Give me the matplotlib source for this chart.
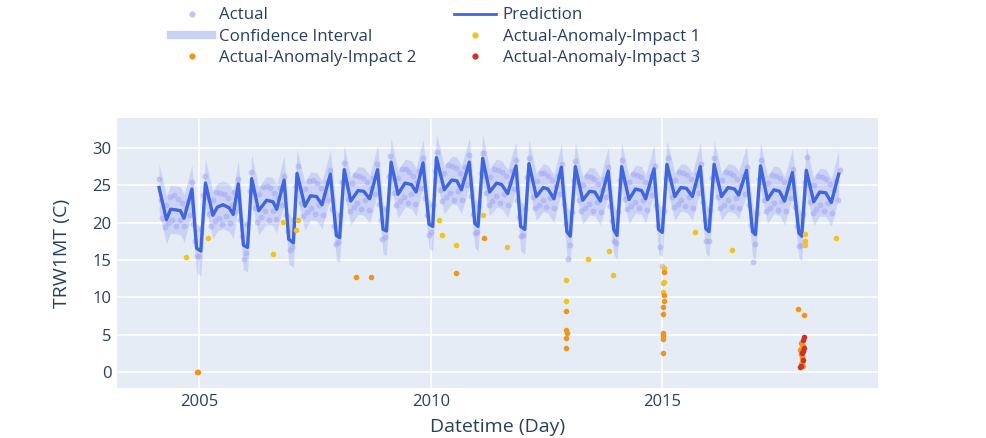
import numpy as np
import pandas as pd
import matplotlib
matplotlib.use('Agg')
import matplotlib.pyplot as plt
from matplotlib.lines import Line2D

plt.rcParams['font.family'] = ['Open Sans', 'DejaVu Sans']

# ---- data ----
# prediction line, decimal years
pred_t = [
    2004.13, 2004.29, 2004.38, 2004.51, 2004.59, 2004.67, 2004.84, 2004.94, 2005.03,
    2005.13, 2005.29, 2005.39, 2005.51, 2005.64, 2005.73, 2005.84, 2005.95, 2006.04,
    2006.13, 2006.28, 2006.45, 2006.59, 2006.67, 2006.83, 2006.93, 2007.03,
    2007.11, 2007.28, 2007.40, 2007.53, 2007.65, 2007.83, 2007.96, 2008.03,
    2008.13, 2008.27, 2008.43, 2008.55, 2008.68, 2008.85, 2008.97, 2009.04,
    2009.14, 2009.29, 2009.44, 2009.58, 2009.68, 2009.83, 2009.96, 2010.04,
    2010.12, 2010.29, 2010.45, 2010.56, 2010.66, 2010.83, 2010.95, 2011.02,
    2011.12, 2011.27, 2011.42, 2011.53, 2011.66, 2011.84, 2011.94, 2012.03,
    2012.12, 2012.28, 2012.43, 2012.53, 2012.66, 2012.82, 2012.94, 2013.01,
    2013.12, 2013.28, 2013.43, 2013.54, 2013.66, 2013.83, 2013.95, 2014.02,
    2014.12, 2014.28, 2014.42, 2014.55, 2014.64, 2014.82, 2014.92, 2015.00,
    2015.10, 2015.27, 2015.40, 2015.52, 2015.65, 2015.82, 2015.94, 2016.01,
    2016.12, 2016.28, 2016.42, 2016.56, 2016.65, 2016.82, 2016.95, 2017.01,
    2017.12, 2017.27, 2017.41, 2017.53, 2017.64, 2017.81, 2017.95, 2018.01,
    2018.11, 2018.27, 2018.40, 2018.53, 2018.65, 2018.81,
]
pred_y = [
    24.7, 20.4, 21.8, 21.7, 21.6, 20.6, 24.5, 16.6, 16.2,
    25.3, 21.0, 22.1, 22.4, 22.0, 21.1, 25.2, 17.0, 16.7,
    25.9, 21.6, 23.0, 22.8, 21.8, 25.7, 17.8, 17.3,
    26.6, 22.2, 23.6, 23.5, 22.4, 26.5, 18.3, 18.0,
    27.1, 22.9, 24.3, 24.2, 23.2, 27.1, 19.1, 18.9,
    28.1, 23.8, 25.3, 25.1, 24.1, 28.0, 19.8, 19.5,
    28.7, 24.4, 25.7, 25.6, 24.4, 28.1, 19.9, 19.5,
    28.6, 24.1, 25.3, 25.1, 23.9, 27.6, 19.5, 19.1,
    27.9, 23.5, 24.7, 24.5, 23.2, 27.4, 18.8, 18.2,
    27.5, 23.0, 24.2, 24.1, 22.9, 26.9, 19.1, 18.3,
    27.5, 23.1, 24.5, 24.3, 23.2, 27.2, 19.1, 18.7,
    27.8, 23.5, 24.7, 24.6, 23.5, 27.5, 19.2, 18.8,
    27.8, 23.5, 24.7, 24.5, 23.7, 27.0, 18.8, 18.4,
    27.6, 23.1, 24.4, 24.2, 22.9, 26.7, 18.6, 18.2,
    27.0, 22.8, 24.1, 24.0, 22.7, 26.5,
]
ci_upper = [
    27.9, 23.6, 25.0, 24.9, 24.8, 23.8, 27.7, 19.9, 19.5,
    28.5, 24.2, 25.3, 25.6, 25.2, 24.3, 28.4, 20.3, 20.0,
    29.1, 24.8, 26.2, 26.0, 25.0, 28.9, 21.1, 20.6,
    29.8, 25.4, 26.8, 26.7, 25.6, 29.7, 21.6, 21.3,
    30.3, 26.1, 27.5, 27.4, 26.4, 30.3, 22.4, 22.2,
    31.3, 27.0, 28.5, 28.3, 27.3, 31.2, 23.1, 22.8,
    31.9, 27.6, 28.9, 28.8, 27.6, 31.3, 23.2, 22.8,
    31.8, 27.3, 28.5, 28.3, 27.1, 30.8, 22.8, 22.4,
    31.1, 26.7, 27.9, 27.7, 26.4, 30.6, 22.1, 21.5,
    30.7, 26.2, 27.4, 27.3, 26.1, 30.1, 22.4, 21.6,
    30.7, 26.3, 27.7, 27.5, 26.4, 30.4, 22.4, 22.0,
    31.0, 26.7, 27.9, 27.8, 26.7, 30.7, 22.5, 22.1,
    31.0, 26.7, 27.9, 27.7, 26.9, 30.2, 22.1, 21.7,
    30.8, 26.3, 27.6, 27.4, 26.1, 29.9, 21.9, 21.5,
    30.2, 26.0, 27.3, 27.2, 25.9, 29.7,
]
ci_lower = [
    21.4, 17.2, 18.6, 18.5, 18.4, 17.4, 21.2, 13.3, 12.9,
    22.1, 17.8, 18.9, 19.2, 18.8, 17.9, 22.0, 13.7, 13.4,
    22.7, 18.4, 19.8, 19.6, 18.6, 22.5, 14.5, 14.0,
    23.4, 19.0, 20.4, 20.3, 19.2, 23.3, 15.0, 14.7,
    23.9, 19.7, 21.1, 21.0, 20.0, 23.9, 15.8, 15.6,
    24.9, 20.6, 22.1, 21.9, 20.9, 24.8, 16.5, 16.2,
    25.5, 21.2, 22.5, 22.4, 21.2, 24.9, 16.6, 16.2,
    25.4, 20.9, 22.1, 21.9, 20.7, 24.4, 16.2, 15.8,
    24.7, 20.3, 21.5, 21.3, 20.0, 24.2, 15.5, 14.9,
    24.3, 19.8, 21.0, 20.9, 19.7, 23.7, 15.8, 15.0,
    24.3, 19.9, 21.3, 21.1, 20.0, 24.0, 15.8, 15.4,
    24.6, 20.3, 21.5, 21.4, 20.3, 24.3, 15.9, 15.5,
    24.6, 20.3, 21.5, 21.3, 20.5, 23.8, 15.5, 15.1,
    24.4, 19.9, 21.2, 21.0, 19.7, 23.5, 15.3, 14.9,
    23.8, 19.6, 20.9, 20.8, 19.5, 23.3,
]

# actual readings, twice a month (1st and 15th) from 2004-02-15 to 2018-11-01
actual_start, actual_end = '2004-02-15', '2018-11-01'
actual_y = [
    # 2004
    25.8, 23.1, 20.6, 19.4, 22.3, 19.9, 23.4, 20.3, 23.7, 19.6, 23.2, 20.4,
    22.6, 19.5, 21.9, 22.8, 21.0, 25.4, 19.8, 17.6, 15.5,
    # 2005
    15.6, 19.1, 23.7, 26.2, 23.4, 21.2, 19.5, 23.0, 20.2, 24.1, 20.6, 24.0,
    19.8, 23.8, 20.9, 23.3, 19.9, 22.4, 24.1, 21.5, 25.9, 20.3, 18.2, 15.1,
    # 2006
    15.9, 19.8, 24.3, 26.8, 24.0, 21.9, 20.1, 23.9, 20.8, 24.8, 21.5, 24.9,
    20.4, 24.6, 21.6, 24.0, 20.5, 23.3, 24.7, 22.4, 26.3, 21.0, 18.9, 16.4,
    # 2007
    16.8, 20.4, 24.9, 27.6, 24.6, 22.6, 20.9, 24.5, 21.4, 25.6, 22.0, 25.7,
    21.1, 25.3, 22.3, 24.6, 21.0, 23.9, 25.4, 23.1, 27.1, 21.8, 19.6, 17.1,
    # 2008
    17.4, 21.0, 25.5, 28.0, 25.3, 23.2, 21.6, 25.3, 22.1, 26.4, 22.7, 26.3,
    21.8, 26.0, 23.0, 25.4, 21.7, 24.6, 26.0, 23.8, 27.9, 22.5, 20.3, 17.8,
    # 2009
    18.1, 21.8, 26.3, 28.9, 26.1, 24.0, 22.4, 26.0, 22.9, 27.2, 23.5, 27.2,
    22.7, 26.8, 23.8, 26.2, 22.5, 25.4, 26.9, 24.6, 28.6, 23.3, 21.0, 18.4,
    # 2010
    18.8, 22.4, 26.9, 29.5, 26.6, 24.4, 22.9, 26.6, 23.4, 27.7, 24.0, 27.6,
    23.1, 27.3, 24.3, 26.7, 23.0, 25.9, 27.4, 25.1, 29.0, 23.6, 21.2, 18.6,
    # 2011
    18.7, 22.2, 26.7, 29.3, 26.3, 24.0, 22.4, 26.1, 22.9, 27.2, 23.6, 27.1,
    22.6, 26.8, 23.8, 26.2, 22.4, 25.3, 26.9, 24.5, 28.4, 23.1, 20.8, 18.2,
    # 2012
    18.3, 21.8, 26.1, 28.7, 25.8, 23.5, 21.9, 25.6, 22.4, 26.7, 23.0, 26.6,
    22.1, 26.3, 23.3, 25.7, 21.9, 24.9, 26.3, 23.9, 27.9, 22.5, 19.8, 15.2,
    # 2013
    17.0, 21.4, 25.7, 28.3, 25.4, 23.0, 21.5, 25.1, 21.9, 26.2, 22.5, 26.1,
    21.6, 25.8, 22.8, 25.2, 21.4, 24.4, 25.8, 23.4, 27.4, 22.2, 20.2, 17.6,
    # 2014
    17.3, 21.4, 25.7, 28.4, 25.5, 23.2, 21.8, 25.4, 22.2, 26.5, 22.8, 26.4,
    21.9, 26.1, 23.1, 25.5, 21.7, 24.7, 26.2, 23.7, 27.6, 22.3, 19.6, 16.8,
    # 2015
    14.2, 21.6, 26.0, 28.7, 25.8, 23.5, 22.1, 25.7, 22.5, 26.8, 23.1, 26.7,
    22.2, 26.4, 23.4, 25.8, 22.0, 25.0, 26.5, 24.0, 27.9, 22.8, 20.4, 17.5,
    # 2016
    17.6, 21.7, 26.0, 28.6, 25.8, 23.5, 22.0, 25.7, 22.4, 26.8, 23.0, 26.7,
    22.1, 26.4, 23.3, 25.8, 21.9, 25.0, 26.3, 23.9, 27.5, 22.4, 19.7, 14.8,
    # 2017
    17.2, 21.3, 25.8, 28.4, 25.5, 23.1, 21.6, 25.3, 22.0, 26.4, 22.6, 26.3,
    21.7, 26.0, 22.9, 25.4, 21.5, 24.6, 25.8, 23.3, 27.2, 22.1, 19.5, 16.9,
    # 2018
    17.0, 21.1, 25.4, 28.8, 25.0, 22.8, 21.3, 25.1, 21.8, 26.2, 22.4, 26.1,
    21.5, 25.8, 22.7, 25.2, 21.3, 24.4, 25.6, 23.1, 27.0,
]

# anomalies (decimal year, value)
imp1_t = [2004.71, 2005.18, 2006.59, 2006.81, 2007.08, 2007.13, 2010.18, 2010.25,
          2010.54, 2011.13, 2011.64, 2012.93, 2012.93, 2013.39, 2013.85, 2013.94,
          2015.03, 2015.03, 2015.02, 2015.02, 2015.02, 2015.70, 2016.51, 2018.08,
          2018.08, 2018.08, 2018.76, 2018.00, 2018.02, 2018.04]
imp1_y = [15.4, 17.9, 15.8, 20.1, 19.0, 20.3, 20.3, 18.3,
          17.0, 21.0, 16.7, 12.3, 9.5, 15.2, 16.2, 13.0,
          13.9, 12.1, 11.9, 10.8, 4.8, 18.8, 16.4, 18.5,
          17.5, 17.0, 17.9, 3.3, 1.9, 0.9]
imp2_t = [2004.95, 2004.98, 2008.39, 2008.70, 2010.54, 2011.15, 2012.93, 2012.93,
          2012.94, 2012.93, 2012.92, 2015.03, 2015.03, 2015.03, 2015.02, 2015.02,
          2015.02, 2015.02, 2015.01, 2015.01, 2017.92, 2018.05, 2018.00, 2017.98,
          2017.99, 2018.01, 2018.02, 2018.01, 2018.03, 2018.04, 2018.00]
imp2_y = [0.1, 0.0, 12.8, 12.8, 13.3, 17.9, 8.2, 5.6,
          5.3, 4.6, 3.2, 13.4, 10.3, 9.5, 8.7, 7.8,
          5.3, 5.0, 4.4, 2.6, 8.5, 7.6, 3.9, 3.0,
          2.4, 2.0, 1.4, 0.8, 2.8, 3.5, 1.1]
imp3_t = [2018.05, 2018.04, 2018.05, 2018.04, 2018.02, 2017.99, 2017.98, 2018.03]
imp3_y = [4.7, 4.3, 3.3, 2.9, 2.6, 0.9, 0.7, 1.6]

x_ticks = [2005, 2010, 2015]
y_ticks = [0, 5, 10, 15, 20, 25, 30]


def to_date(v):
    yr = int(v)
    return pd.Timestamp(year=yr, month=1, day=1) + pd.Timedelta(days=(v - yr) * 365.25)


def to_dates(vals):
    return [to_date(v) for v in vals]


actual_t = pd.date_range(actual_start, actual_end, freq='SMS')
assert len(actual_t) == len(actual_y)

TXT = '#2a3f5f'
BG = '#e5ecf6'
CI_COL = '#c9d1f6'
ACT_COL = '#a6a6f4'
PRED_COL = '#3f66dd'
C1, C2, C3 = '#f2c21d', '#f0951a', '#cc3226'

fig = plt.figure(figsize=(9.87, 4.38), dpi=100)
ax = fig.add_axes([0.1185, 0.1142, 0.7711, 0.6164])
ax.set_facecolor(BG)

pt = to_dates(pred_t)
ax.fill_between(pt, ci_lower, ci_upper, color='#6f7ef2', alpha=0.22, lw=0, zorder=1)
ax.scatter(actual_t, actual_y, s=18, color=ACT_COL, alpha=0.55, lw=0, zorder=2)
ax.plot(pt, pred_y, color=PRED_COL, lw=2.4, zorder=3)
ax.scatter(to_dates(imp1_t), imp1_y, s=16, color=C1, lw=0, zorder=4)
ax.scatter(to_dates(imp2_t), imp2_y, s=16, color=C2, lw=0, zorder=4)
ax.scatter(to_dates(imp3_t), imp3_y, s=16, color=C3, lw=0, zorder=5)

ax.set_xlim(to_date(2003.22), to_date(2019.66))
ax.set_ylim(-2.1, 34.0)
ax.set_xticks([pd.Timestamp(year=y, month=1, day=1) for y in x_ticks])
ax.set_xticklabels([str(y) for y in x_ticks])
ax.set_yticks(y_ticks)
ax.grid(True, color='white', lw=1.1, zorder=0)
ax.set_axisbelow(True)
for s in ax.spines.values():
    s.set_visible(False)
ax.tick_params(length=0, labelsize=12, colors=TXT, pad=4)
ax.set_xlabel('Datetime (Day)', fontsize=14, color=TXT, labelpad=6)
ax.set_ylabel('TRW1MT (C)', fontsize=14, color=TXT, labelpad=15)

handles = [
    Line2D([], [], ls='none', marker='o', ms=3.5, color='#c3c3f6'),
    Line2D([], [], color=CI_COL, lw=6),
    Line2D([], [], ls='none', marker='o', ms=3.5, color=C2),
    Line2D([], [], color=PRED_COL, lw=2),
    Line2D([], [], ls='none', marker='o', ms=3.5, color=C1),
    Line2D([], [], ls='none', marker='o', ms=3.5, color=C3),
]
labels = ['Actual', 'Confidence Interval', 'Actual-Anomaly-Impact 2',
          'Prediction', 'Actual-Anomaly-Impact 1', 'Actual-Anomaly-Impact 3']
leg = fig.legend(handles, labels, ncol=2, loc='upper left', bbox_to_anchor=(0.173, 0.983),
                 frameon=False, fontsize=12.2, handlelength=2.45, handletextpad=0.4,
                 columnspacing=2.25, labelspacing=0.3, borderaxespad=0, borderpad=0)
for t in leg.get_texts():
    t.set_color(TXT)

fig.savefig('out.png', dpi=100)
